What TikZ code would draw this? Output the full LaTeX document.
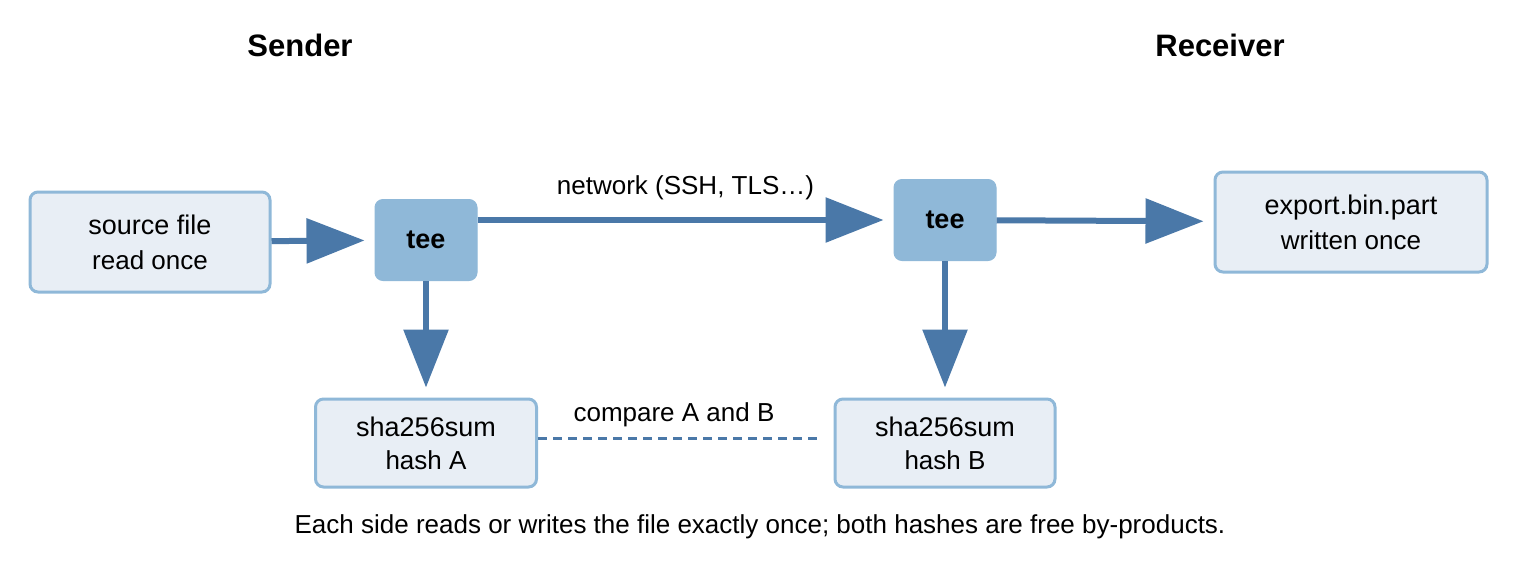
\documentclass[tikz,border=0pt]{standalone}
\usepackage{fontspec}
\setmainfont{Liberation Sans}
\usetikzlibrary{arrows.meta}
\definecolor{BoxFill}{HTML}{E8EEF5}
\definecolor{BoxLine}{HTML}{8FB8D8}
\definecolor{TeeFill}{HTML}{8FB8D8}
\definecolor{FlowBlue}{HTML}{4A78A8}
\begin{document}
\begin{tikzpicture}[x=1pt,y=-1pt]
  \tikzset{BoxStyle/.style = {
    shape         = rectangle,
    rounded corners = 8pt,
    draw          = BoxLine,
    fill          = BoxFill,
    line width    = 3pt,
    text          = black,
    align         = center,
    font          = \fontsize{27}{36}\selectfont,
    inner sep     = 0pt
    }
  }
  \tikzset{TeeStyle/.style = {
    shape         = rectangle,
    rounded corners = 8pt,
    draw          = TeeFill,
    fill          = TeeFill,
    line width    = 1pt,
    text          = black,
    font          = \fontsize{27}{32}\selectfont\bfseries,
    minimum width = 102pt,
    minimum height = 81pt
    }
  }
  \tikzset{FlowStyle/.style = {
    draw          = FlowBlue,
    line width    = 6pt,
    -{Triangle[length=58pt,width=44pt]},
    shorten >     = 10pt
    }
  }
  \tikzset{CompareStyle/.style = {
    draw          = FlowBlue,
    line width    = 3pt,
    dash pattern  = on 9pt off 6pt
    }
  }
  \tikzset{LabelStyle/.style = {
    font          = \fontsize{26}{30}\selectfont
    }
  }

  \useasboundingbox (0,0) rectangle (1520,560);

  \node[font=\fontsize{31}{36}\selectfont\bfseries](sender) at (300,45) {Sender};
  \node[font=\fontsize{31}{36}\selectfont\bfseries](receiver) at (1220,45) {Receiver};

  \node[BoxStyle, minimum width=240pt, minimum height=100pt](src) at (150,242) {source file\\[-1pt]{\fontsize{26}{30}\selectfont read once}};
  \node[TeeStyle](teeA) at (426,240) {tee};
  \node[TeeStyle](teeB) at (945,220) {tee};
  \node[BoxStyle, minimum width=272pt, minimum height=100pt](out) at (1351,222) {export.bin.part\\[-1pt]{\fontsize{26}{30}\selectfont written once}};
  \node[BoxStyle, minimum width=221pt, minimum height=88pt](hashA) at (426,443) {sha256sum\\[-3pt]{\fontsize{26}{30}\selectfont hash A}};
  \node[BoxStyle, minimum width=220pt, minimum height=88pt](hashB) at (945,443) {sha256sum\\[-3pt]{\fontsize{26}{30}\selectfont hash B}};

  \draw[FlowStyle](src) -- (teeA);
  \draw[FlowStyle](teeA.east |- teeB.west) -- node[LabelStyle, above=14pt]{network (SSH, TLS…)} (teeB.west);
  \draw[FlowStyle](teeB) -- (out);
  \draw[FlowStyle](teeA) -- (hashA);
  \draw[FlowStyle](teeB) -- (hashB);
  \coordinate (cmpEnd) at (820,438);
  \draw[CompareStyle](hashA.east |- cmpEnd) -- node[LabelStyle, above=6pt, xshift=-5pt]{compare A and B} (cmpEnd);

  \node[LabelStyle](note) at (760,527) {Each side reads or writes the file exactly once; both hashes are free by-products.};
\end{tikzpicture}
\end{document}
